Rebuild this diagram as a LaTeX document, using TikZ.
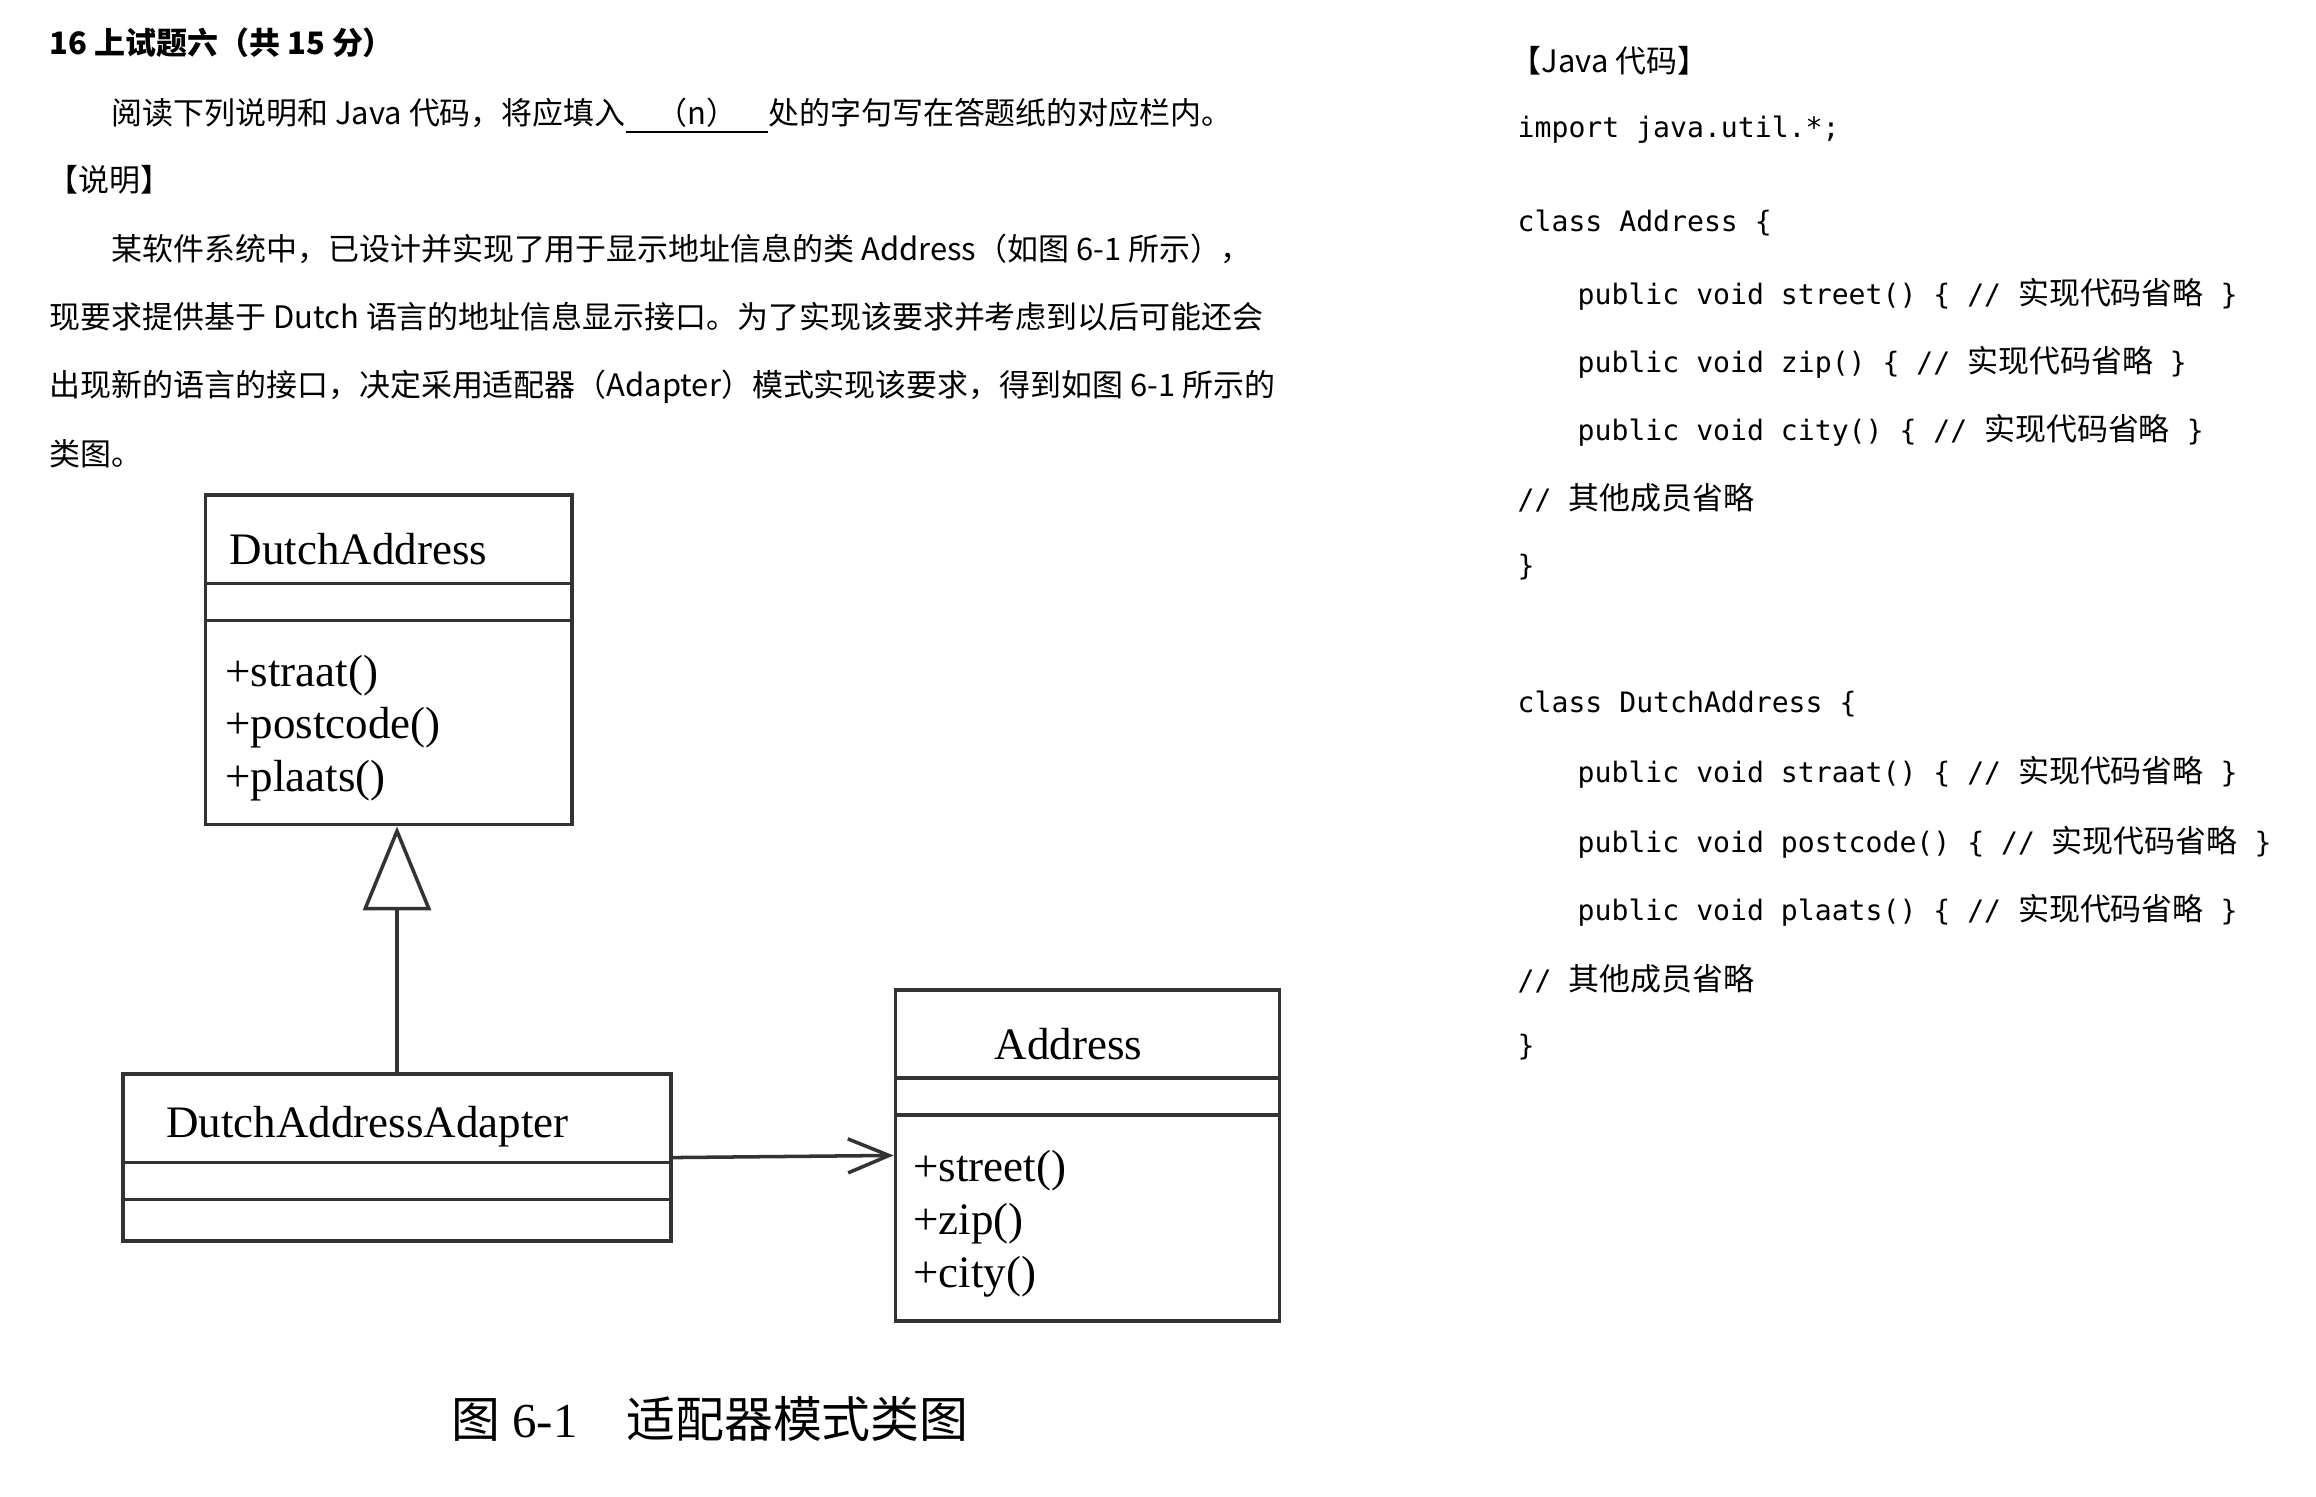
\documentclass[tikz,border=0pt]{standalone}
\usepackage{fontspec}
\setmainfont{Liberation Serif}
\setmonofont{DejaVu Sans Mono}
\newfontfamily\cjk{Noto Sans CJK SC}
\newfontfamily\cjkcode[Scale=1.1]{Noto Sans CJK SC}
\usepackage{xcolor}
\usetikzlibrary{positioning, calc, arrows.meta}

\begin{document}
\begin{tikzpicture}[
  x=0.01cm, y=-0.01cm,
  txt/.style={anchor=west, inner sep=0pt, font=\cjk\fontsize{8.8}{10}\selectfont},
  code/.style={anchor=west, inner sep=0pt, font=\ttfamily\fontsize{8}{10}\selectfont},
  umlbox/.style={draw=black!80, line width=1pt, anchor=north west, inner sep=0pt},
  umlline/.style={draw=black!80, line width=1pt},
  umltext/.style={anchor=west, inner sep=0pt, yshift=-0.04cm, font=\fontsize{12.8}{15}\selectfont},
  generalize/.style={draw=black!80, line width=1pt,
    -{Triangle[open, length=0.84cm, width=0.68cm, fill=white]}},
  assoc/.style={draw=black!80, line width=1pt,
    -{Straight Barb[length=0.41cm, width=0.34cm]}},
]

\useasboundingbox[fill=white] (0,0) rectangle (2316,1496);

% =====================================================================
% Question text (left, top)
% =====================================================================
\node[txt, font=\cjk\bfseries\fontsize{8.8}{10}\selectfont] (title) at (49,43)
  {16 上试题六（共 15 分）};
\node[txt] (intro) at (111,116)
  {阅读下列说明和 Java 代码，将应填入\underline{\hspace{1em}（n）\hspace{1em}}处的字句写在答题纸的对应栏内。};
\node[txt] (descHead) at (47,180) {【说明】};
\node[txt] (descA) at (111,249)
  {某软件系统中，已设计并实现了用于显示地址信息的类 Address（如图 6-1 所示），};
\node[txt] (descB) at (49,317)
  {现要求提供基于 Dutch 语言的地址信息显示接口。为了实现该要求并考虑到以后可能还会};
\node[txt] (descC) at (49,387)
  {出现新的语言的接口，决定采用适配器（Adapter）模式实现该要求，得到如图 6-1 所示的};
\node[txt] (descD) at (49,454) {类图。};

% =====================================================================
% Class diagram
% =====================================================================
\node[umlbox, minimum width=3.663cm, minimum height=3.294cm] (dutch)   at (203.8,493.3) {};
\node[umlbox, minimum width=5.48cm,  minimum height=1.669cm] (adapter) at (121.1,1072.3) {};
\node[umlbox, minimum width=3.84cm,  minimum height=3.309cm] (address) at (893.6,988.1) {};

% compartments
\foreach \b in {dutch, adapter, address}{
  \foreach \d in {90,127}{
    \draw[umlline] ($(\b.north west)+(0,\d)$) -- ($(\b.north east)+(0,\d)$);
  }
}

\node[umltext] (dutchName)   at (229,545)    {DutchAddress};
\node[umltext] (adapterName) at (165.4,1122.5) {DutchAddressAdapter};
\node[umltext] (addressName) at (994,1040)   {Address};

\foreach \m/\y [count=\k] in {+straat()/672, +postcode()/723.7, +plaats()/777}{
  \node[umltext] (dutchOp\k) at (224.5,\y) {\m};
}
\foreach \m/\y [count=\k] in {+street()/1166.8, +zip()/1220, +city()/1273.2}{
  \node[umltext] (addressOp\k) at (912.8,\y) {\m};
}

% adapter -> DutchAddress (generalization)
\draw[generalize] (adapter.north) -- (adapter.north |- dutch.south);

% adapter -> Address (association)
\draw[assoc] (adapter.east) -- (address.west);

\node[anchor=west, inner sep=0pt, font=\fontsize{13.9}{16}\selectfont] (caption) at (450.5,1419)
  {{\cjk 图} 6-1\hspace{1em}{\cjk 适配器模式类图}};

% =====================================================================
% Java code (right)
% =====================================================================
\pgfmathsetmacro{\cX}{1517}
\pgfmathsetmacro{\iX}{1577}

\node[txt] (codeHead) at (1510,61) {【Java 代码】};
\node[code] (imp) at (\cX,130) {import java.util.*;};

\node[code] (addrCls)  at (\cX,223)   {class Address \{};
\node[code] (addrOpA)  at (\iX,294)   {public void street() \{ // {\cjkcode 实现代码省略} \}};
\node[code] (addrOpB)  at (\iX,362)   {public void zip() \{ // {\cjkcode 实现代码省略} \}};
\node[code] (addrOpC)  at (\iX,430)   {public void city() \{ // {\cjkcode 实现代码省略} \}};
\node[code] (addrRest) at (\cX,497.5) {// {\cjkcode 其他成员省略}};
\node[code] (addrEnd)  at (\cX,567)   {\}};

\node[code] (dutchCls)  at (\cX,704.5) {class DutchAddress \{};
\node[code] (dutchOpA)  at (\iX,772.5) {public void straat() \{ // {\cjkcode 实现代码省略} \}};
\node[code] (dutchOpB)  at (\iX,842)   {public void postcode() \{ // {\cjkcode 实现代码省略} \}};
\node[code] (dutchOpC)  at (\iX,910)   {public void plaats() \{ // {\cjkcode 实现代码省略} \}};
\node[code] (dutchRest) at (\cX,979)   {// {\cjkcode 其他成员省略}};
\node[code] (dutchEnd)  at (\cX,1047)  {\}};

\end{tikzpicture}
\end{document}
